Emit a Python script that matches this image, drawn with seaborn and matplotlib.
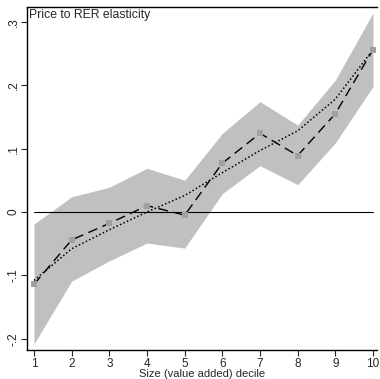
import matplotlib
matplotlib.use("Agg")
import matplotlib.pyplot as plt
import seaborn as sns
import pandas as pd

# deciles and estimates
deciles = [1, 2, 3, 4, 5, 6, 7, 8, 9, 10]
coef = [-0.114, -0.044, -0.018, 0.010, -0.005, 0.077, 0.124, 0.089, 0.155, 0.256]
ci_low = [-0.208, -0.109, -0.077, -0.049, -0.057, 0.029, 0.073, 0.043, 0.109, 0.198]
ci_high = [-0.019, 0.024, 0.039, 0.069, 0.050, 0.124, 0.174, 0.137, 0.208, 0.314]
fitted = [-0.108, -0.058, -0.028, 0.000, 0.026, 0.062, 0.097, 0.128, 0.178, 0.256]

yticks = [-0.2, -0.1, 0, 0.1, 0.2, 0.3]
ytick_labels = ["-.2", "-.1", "0", ".1", ".2", ".3"]

df = pd.DataFrame({"decile": deciles, "coef": coef, "low": ci_low,
                   "high": ci_high, "fit": fitted})

sns.set_style("ticks")
plt.rcParams["font.family"] = ["Liberation Sans", "DejaVu Sans"]

fig = plt.figure(figsize=(3.8, 3.79), dpi=100)
ax = fig.add_axes([0.0711, 0.0765, 0.921, 0.905])

ax.fill_between(df["decile"], df["low"], df["high"], color="#c0c0c0", lw=0)
ax.plot([1, 10], [0, 0], color="black", lw=0.8)
sns.lineplot(data=df, x="decile", y="fit", ax=ax, color="black", lw=1.1,
             linestyle=(0, (1, 1.5)))
sns.lineplot(data=df, x="decile", y="coef", ax=ax, color="black", lw=1.0,
             linestyle=(0, (7, 4)))
sns.scatterplot(data=df, x="decile", y="coef", ax=ax, color="#a0a0a0",
                marker="s", s=14, linewidth=0, zorder=5)

ax.set_xlim(0.814, 10.106)
ax.set_ylim(-0.2177, 0.3233)
ax.set_xticks(deciles)
ax.set_xticklabels([str(d) for d in deciles], fontsize=8.5)
ax.set_yticks(yticks)
ax.set_yticklabels(ytick_labels, fontsize=8.5, rotation=90, va="center")
ax.tick_params(length=4, width=0.8, pad=1.5)
ax.set_xlabel("Size (value added) decile", fontsize=8, labelpad=-0.5)
ax.set_ylabel("")

for side in ["left", "bottom", "top"]:
    ax.spines[side].set_linewidth(1.0)
    ax.spines[side].set_color("black")
ax.spines["right"].set_visible(False)

ax.text(0.005, 0.993, "Price to RER elasticity", transform=ax.transAxes,
        fontsize=8.8, va="top", ha="left")

fig.savefig("out.png", dpi=100)
